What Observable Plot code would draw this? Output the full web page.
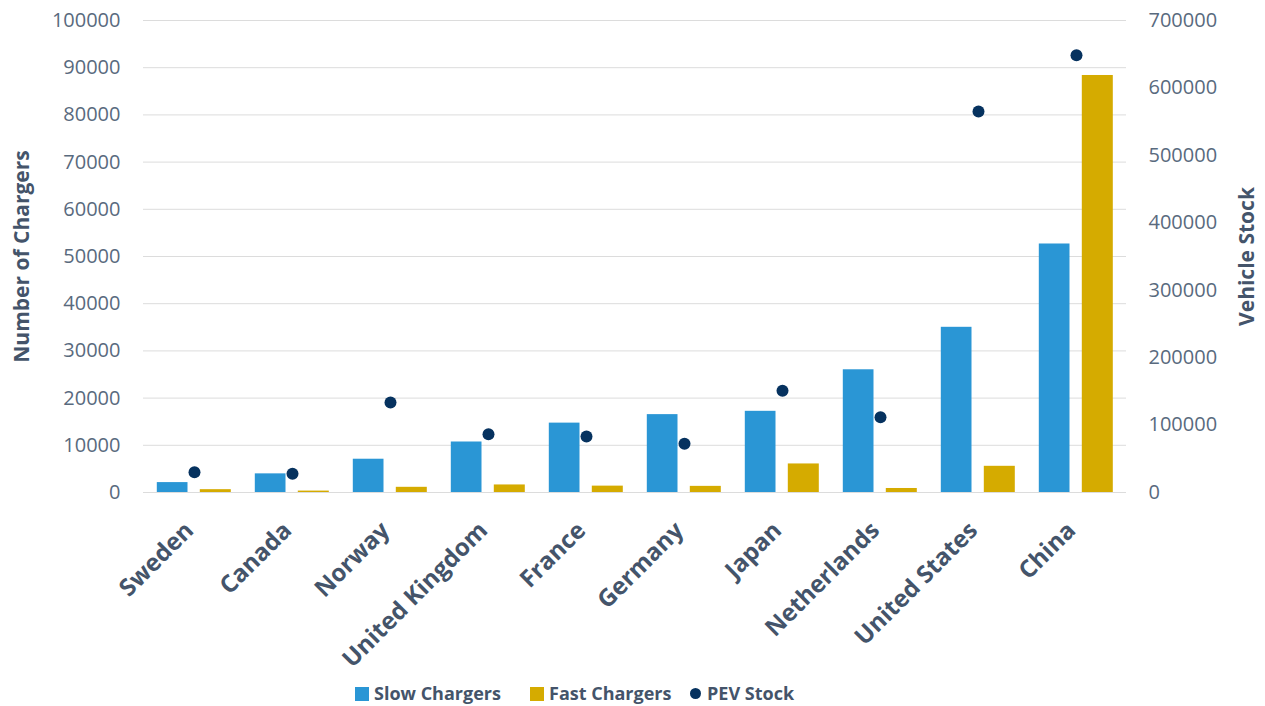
<!DOCTYPE html>
<html><head><meta charset="utf-8">
<script src="https://cdn.jsdelivr.net/npm/d3@7"></script>
<script src="https://cdn.jsdelivr.net/npm/@observablehq/plot@0.6"></script>
<style>
body{margin:0;background:#fff;font-family:"Open Sans",sans-serif;width:1265px;overflow:hidden}
#legend{position:relative;height:26px;}
.lg{position:absolute;top:0;height:26px;line-height:26px;font-weight:700;font-size:18px;color:#44546a;white-space:nowrap}
.sw{display:inline-block;width:14px;height:14px;margin-right:5px;vertical-align:-1px}
.dt{display:inline-block;width:11px;height:11px;border-radius:50%;margin-right:6px;vertical-align:1px}
</style>
</head><body><div id="chart"></div><div id="legend"></div>
<script>
const countries = ["Sweden","Canada","Norway","United Kingdom","France","Germany","Japan","Netherlands","United States","China"];
const slowChargers = [2100, 3950, 7050, 10700, 14700, 16500, 17200, 26000, 35000, 52650];
const fastChargers = [600, 300, 1100, 1600, 1350, 1300, 6050, 850, 5550, 88350];
const pevStock = [30100, 27700, 133500, 86500, 83000, 72200, 150800, 111700, 565000, 648600];
const leftTicks = d3.range(0, 100001, 10000);
const rightTicks = d3.range(0, 700001, 100000);
const ratio = 7;

const seriesNames = ["Slow Chargers","Fast Chargers","PEV Stock"];
const colors = ["#2a96d5","#d5ab00","#06325f"];

const data = countries.map((c,i)=>({country:c, slow:slowChargers[i], fast:fastChargers[i], pev:pevStock[i]}));

const tickColor = "#596a7e";
const titleColor = "#44546a";

const chart = Plot.plot({
  width:1265, height:680, marginTop:20, marginBottom:188, marginLeft:143, marginRight:139,
  style:{fontFamily:"'Open Sans', sans-serif", background:"#fff", overflow:"visible"},
  x:{domain:countries, padding:0, axis:null},
  y:{domain:[0,100000], axis:null},
  marks:[
    Plot.gridY(leftTicks,{stroke:"#dcdcdc", strokeOpacity:1, strokeWidth:1}),
    Plot.barY(data,{x:"country", y:"slow", fill:colors[0], insetLeft:11.8, insetRight:55.5}),
    Plot.barY(data,{x:"country", y:"fast", fill:colors[1], insetLeft:54.8, insetRight:12.2}),
    Plot.dot(data,{x:"country", y:d=>d.pev/ratio, r:6, fill:colors[2], stroke:null}),
    Plot.axisY(leftTicks,{anchor:"left", tickSize:0, tickPadding:23, label:null, tickFormat:d=>String(d), fontSize:20, fill:tickColor}),
    Plot.axisY(rightTicks.map(v=>v/ratio),{anchor:"right", tickSize:0, tickPadding:22, label:null, tickFormat:d=>String(Math.round(d*ratio)), fontSize:20, fill:tickColor}),
    Plot.axisX({tickRotate:-45, tickSize:0, tickPadding:34, dx:-5, label:null, fontSize:24, fontWeight:700, fill:titleColor}),
    Plot.text(["Number of Chargers"],{frameAnchor:"left", dx:-121, rotate:-90, textAnchor:"middle", fontSize:21, fontWeight:700, fill:titleColor}),
    Plot.text(["Vehicle Stock"],{frameAnchor:"right", dx:121, rotate:-90, textAnchor:"middle", fontSize:21, fontWeight:700, fill:titleColor})
  ]
});
document.getElementById("chart").appendChild(chart);

const legend = document.getElementById("legend");
const lx = [355, 530, 690];
seriesNames.forEach((n,i)=>{
  const d = document.createElement("div");
  d.className = "lg";
  d.style.left = lx[i] + "px";
  const s = document.createElement("span");
  s.className = i===2 ? "dt" : "sw";
  s.style.background = colors[i];
  d.appendChild(s);
  d.appendChild(document.createTextNode(n));
  legend.appendChild(d);
});
</script>
</body></html>
